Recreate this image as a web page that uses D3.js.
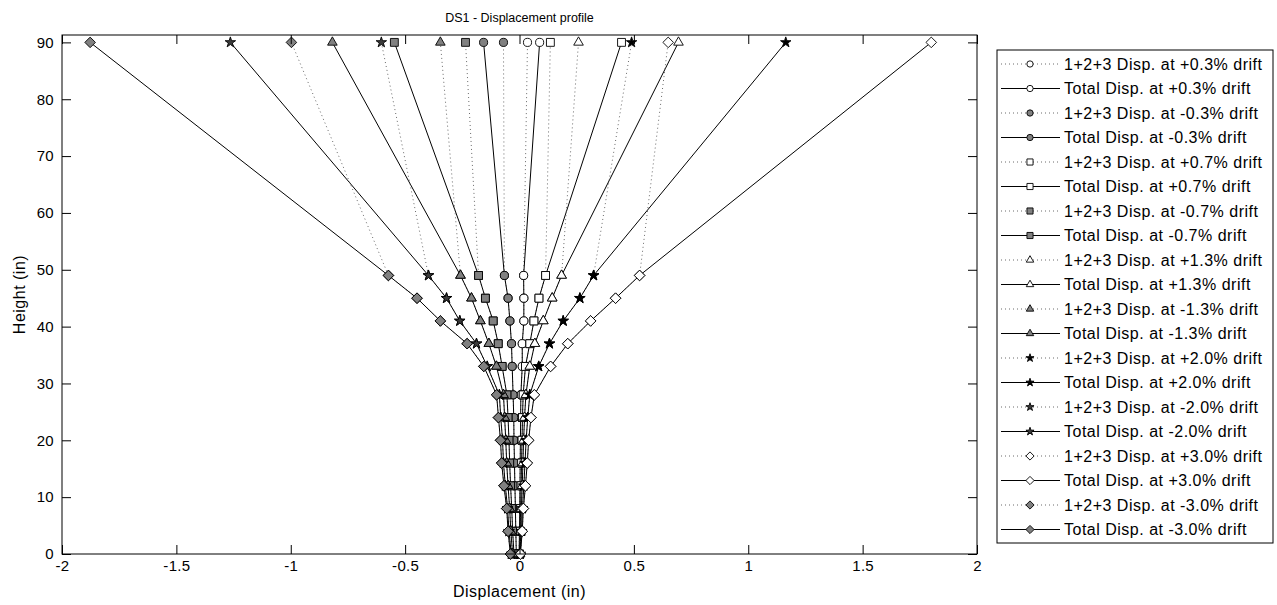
<!DOCTYPE html>
<html>
<head>
<meta charset="utf-8">
<script src="https://cdn.jsdelivr.net/npm/d3@7/dist/d3.min.js"></script>
<style>
  html, body { margin: 0; padding: 0; background: #fff; }
  svg { display: block; }
  text { font-family: "Liberation Sans", Arial, sans-serif; fill: #000; }
</style>
</head>
<body>
<svg id="chart" width="1277" height="605"></svg>
<script>
// Gauge heights along the wall (in)
const heights = [0, 4, 8, 12, 16, 20, 24, 28, 33, 37, 41, 45, 49, 90];

// Displacement (in) at each gauge height, one array per series
const sum_p03   = [-0.002, 0.000, 0.001, 0.002, 0.003, 0.004, 0.005, 0.006, 0.012, 0.012, 0.019, 0.019, 0.018, 0.035];
const total_p03 = [-0.002, 0.000, 0.001, 0.002, 0.003, 0.004, 0.005, 0.006, 0.012, 0.012, 0.019, 0.019, 0.018, 0.088];
const sum_m03   = [-0.014, -0.016, -0.018, -0.020, -0.022, -0.024, -0.025, -0.028, -0.032, -0.035, -0.042, -0.050, -0.066, -0.070];
const total_m03 = [-0.014, -0.016, -0.018, -0.020, -0.022, -0.024, -0.025, -0.028, -0.032, -0.035, -0.042, -0.050, -0.066, -0.157];
const sum_p07   = [0.000, 0.003, 0.005, 0.007, 0.009, 0.011, 0.013, 0.016, 0.026, 0.045, 0.063, 0.085, 0.114, 0.135];
const total_p07 = [0.000, 0.003, 0.005, 0.007, 0.009, 0.011, 0.013, 0.016, 0.026, 0.045, 0.063, 0.085, 0.114, 0.446];
const sum_m07   = [-0.024, -0.030, -0.034, -0.039, -0.043, -0.046, -0.050, -0.055, -0.076, -0.093, -0.115, -0.149, -0.179, -0.236];
const total_m07 = [-0.024, -0.030, -0.034, -0.039, -0.043, -0.046, -0.050, -0.055, -0.076, -0.093, -0.115, -0.149, -0.179, -0.547];
const sum_p13   = [0.002, 0.006, 0.008, 0.012, 0.015, 0.018, 0.022, 0.028, 0.045, 0.067, 0.104, 0.143, 0.184, 0.258];
const total_p13 = [0.002, 0.006, 0.008, 0.012, 0.015, 0.018, 0.022, 0.028, 0.045, 0.067, 0.104, 0.143, 0.184, 0.695];
const sum_m13   = [-0.030, -0.038, -0.043, -0.050, -0.056, -0.060, -0.065, -0.070, -0.101, -0.134, -0.171, -0.210, -0.258, -0.346];
const total_m13 = [-0.030, -0.038, -0.043, -0.050, -0.056, -0.060, -0.065, -0.070, -0.101, -0.134, -0.171, -0.210, -0.258, -0.818];
const sum_p20   = [0.003, 0.009, 0.013, 0.019, 0.024, 0.029, 0.036, 0.045, 0.084, 0.131, 0.191, 0.264, 0.324, 0.490];
const total_p20 = [0.003, 0.009, 0.013, 0.019, 0.024, 0.029, 0.036, 0.045, 0.084, 0.131, 0.191, 0.264, 0.324, 1.164];
const sum_m20   = [-0.036, -0.046, -0.052, -0.062, -0.070, -0.074, -0.082, -0.088, -0.141, -0.188, -0.261, -0.319, -0.398, -0.604];
const total_m20 = [-0.036, -0.046, -0.052, -0.062, -0.070, -0.074, -0.082, -0.088, -0.141, -0.188, -0.261, -0.319, -0.398, -1.264];
const sum_p30   = [0.004, 0.012, 0.017, 0.026, 0.034, 0.040, 0.050, 0.065, 0.136, 0.211, 0.311, 0.420, 0.525, 0.650];
const total_p30 = [0.004, 0.012, 0.017, 0.026, 0.034, 0.040, 0.050, 0.065, 0.136, 0.211, 0.311, 0.420, 0.525, 1.800];
const sum_m30   = [-0.040, -0.050, -0.056, -0.068, -0.078, -0.083, -0.092, -0.100, -0.156, -0.229, -0.346, -0.448, -0.573, -0.997];
const total_m30 = [-0.040, -0.050, -0.056, -0.068, -0.078, -0.083, -0.092, -0.100, -0.156, -0.229, -0.346, -0.448, -0.573, -1.877];

// Axis ticks
const xTicks = [-2, -1.5, -1, -0.5, 0, 0.5, 1, 1.5, 2];
const yTicks = [0, 10, 20, 30, 40, 50, 60, 70, 80, 90];

// Series in plotting / legend order
const seriesNames = [
  "1+2+3 Disp. at +0.3% drift", "Total Disp. at +0.3% drift",
  "1+2+3 Disp. at -0.3% drift", "Total Disp. at -0.3% drift",
  "1+2+3 Disp. at +0.7% drift", "Total Disp. at +0.7% drift",
  "1+2+3 Disp. at -0.7% drift", "Total Disp. at -0.7% drift",
  "1+2+3 Disp. at +1.3% drift", "Total Disp. at +1.3% drift",
  "1+2+3 Disp. at -1.3% drift", "Total Disp. at -1.3% drift",
  "1+2+3 Disp. at +2.0% drift", "Total Disp. at +2.0% drift",
  "1+2+3 Disp. at -2.0% drift", "Total Disp. at -2.0% drift",
  "1+2+3 Disp. at +3.0% drift", "Total Disp. at +3.0% drift",
  "1+2+3 Disp. at -3.0% drift", "Total Disp. at -3.0% drift"
];
const seriesValues = [
  sum_p03, total_p03, sum_m03, total_m03,
  sum_p07, total_p07, sum_m07, total_m07,
  sum_p13, total_p13, sum_m13, total_m13,
  sum_p20, total_p20, sum_m20, total_m20,
  sum_p30, total_p30, sum_m30, total_m30
];
const markerKinds = ["circle", "circle", "square", "square", "triangle", "triangle", "star", "star", "diamond", "diamond"];
const markerFills = ["#ffffff", "#808080"];
const starFills = ["#000000", "#3a3a3a"];

// Diamond drawn as a square turned 45 degrees
const symbolRhombus = {
  draw(ctx, size) {
    const r = Math.sqrt(size / 2);
    ctx.moveTo(0, -r); ctx.lineTo(r, 0); ctx.lineTo(0, r); ctx.lineTo(-r, 0); ctx.closePath();
  }
};
const symbolTypes = {
  circle: [d3.symbolCircle, 52],
  square: [d3.symbolSquare, 62],
  triangle: [d3.symbolTriangle, 40],
  star: [d3.symbolStar, 34],
  diamond: [symbolRhombus, 56]
};

const series = seriesNames.map((name, i) => {
  const level = Math.floor(i / 4);       // drift magnitude index
  const sign = Math.floor(i / 2) % 2;    // 0 = positive, 1 = negative
  const kind = markerKinds[level * 2 + sign];
  return {
    name,
    dotted: i % 2 === 0,
    kind,
    fill: kind === "star" ? starFills[sign] : markerFills[sign],
    points: heights.map((h, k) => ({ h, d: seriesValues[i][k] }))
  };
});

const svg = d3.select("#chart");
const plot = { left: 62, right: 977, top: 35, bottom: 554 };

const x = d3.scaleLinear().domain([-2, 2]).range([plot.left, plot.right]);
const y = d3.scaleLinear().domain([0, 91.3]).range([plot.bottom, plot.top]);

// Title and axis labels
svg.append("text").attr("x", (plot.left + plot.right) / 2).attr("y", 22)
  .attr("text-anchor", "middle").attr("font-size", 12.5).text("DS1 - Displacement profile");
svg.append("text").attr("x", (plot.left + plot.right) / 2).attr("y", 597)
  .attr("text-anchor", "middle").attr("font-size", 16).attr("letter-spacing", 0.5)
  .text("Displacement (in)");
svg.append("text").attr("transform", `translate(25,${(plot.top + plot.bottom) / 2}) rotate(-90)`)
  .attr("text-anchor", "middle").attr("font-size", 16).attr("letter-spacing", 0.5)
  .text("Height (in)");

// Data layer clipped to the axes box
svg.append("clipPath").attr("id", "plotClip").append("rect")
  .attr("x", plot.left).attr("y", plot.top - 6)
  .attr("width", plot.right - plot.left).attr("height", plot.bottom - plot.top + 12);
const dataLayer = svg.append("g").attr("clip-path", "url(#plotClip)");

const line = d3.line().x(p => x(p.d)).y(p => y(p.h));

series.forEach(s => {
  const g = dataLayer.append("g");
  g.append("path").datum(s.points).attr("d", line)
    .attr("fill", "none")
    .attr("stroke", s.dotted ? "#6a6a6a" : "#000")
    .attr("stroke-width", 1)
    .attr("stroke-dasharray", s.dotted ? "1,3" : null);
  const [type, size] = symbolTypes[s.kind];
  g.selectAll("path.mk").data(s.points).join("path").attr("class", "mk")
    .attr("transform", p => `translate(${x(p.d)},${y(p.h)})`)
    .attr("d", d3.symbol(type, size))
    .attr("fill", s.fill)
    .attr("stroke", "#000").attr("stroke-width", 0.9);
});

// Axes with inward ticks on all four sides
const fmt = d => String(d);
const axisStyle = g => {
  g.select(".domain").remove();
  g.selectAll(".tick line").attr("stroke", "#000");
  g.selectAll(".tick text").attr("font-size", 15).attr("letter-spacing", 0.3).attr("fill", "#000")
    .attr("font-family", "Liberation Sans, Arial, sans-serif");
};
svg.append("g").attr("transform", `translate(0,${plot.bottom})`)
  .call(d3.axisBottom(x).tickValues(xTicks).tickFormat(fmt).tickSizeInner(-9).tickSizeOuter(0).tickPadding(6))
  .call(axisStyle);
svg.append("g").attr("transform", `translate(0,${plot.top})`)
  .call(d3.axisTop(x).tickValues(xTicks).tickFormat("").tickSizeInner(-9).tickSizeOuter(0))
  .call(axisStyle);
svg.append("g").attr("transform", `translate(${plot.left},0)`)
  .call(d3.axisLeft(y).tickValues(yTicks).tickFormat(fmt).tickSizeInner(-9).tickSizeOuter(0).tickPadding(8))
  .call(axisStyle);
svg.append("g").attr("transform", `translate(${plot.right},0)`)
  .call(d3.axisRight(y).tickValues(yTicks).tickFormat("").tickSizeInner(-9).tickSizeOuter(0))
  .call(axisStyle);

svg.append("rect").attr("x", plot.left).attr("y", plot.top)
  .attr("width", plot.right - plot.left).attr("height", plot.bottom - plot.top)
  .attr("fill", "none").attr("stroke", "#000").attr("stroke-width", 1);

// Legend
const legend = { left: 997, top: 50, right: 1273, bottom: 543, row0: 64, step: 24.5 };
svg.append("rect").attr("x", legend.left).attr("y", legend.top)
  .attr("width", legend.right - legend.left).attr("height", legend.bottom - legend.top)
  .attr("fill", "#fff").attr("stroke", "#000").attr("stroke-width", 1);

series.forEach((s, i) => {
  const cy = legend.row0 + i * legend.step;
  const g = svg.append("g");
  g.append("line").attr("x1", 1001).attr("x2", 1060).attr("y1", cy).attr("y2", cy)
    .attr("stroke", s.dotted ? "#6a6a6a" : "#000").attr("stroke-width", 1)
    .attr("stroke-dasharray", s.dotted ? "1,3" : null);
  const [type, size] = symbolTypes[s.kind];
  g.append("path").attr("transform", `translate(1030,${cy})`)
    .attr("d", d3.symbol(type, size * 0.6))
    .attr("fill", s.fill).attr("stroke", "#000").attr("stroke-width", 0.9);
  g.append("text").attr("x", 1064).attr("y", cy).attr("dy", "0.35em")
    .attr("font-size", 16).attr("letter-spacing", 0.5).text(s.name);
});
</script>
</body>
</html>
